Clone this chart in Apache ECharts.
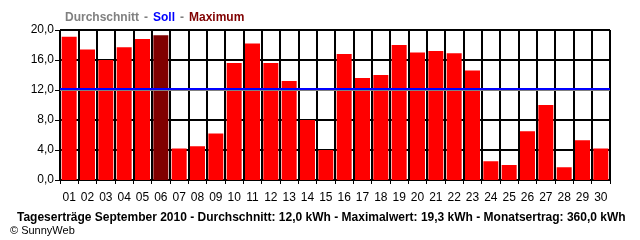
<!DOCTYPE html>
<html><head><meta charset="utf-8">
<script src="https://cdn.jsdelivr.net/npm/echarts@6/dist/echarts.min.js"></script>
<style>html,body{margin:0;padding:0;background:#fff}#c{width:640px;height:240px}</style>
</head><body><div id="c"></div>
<script>
const days = ['01','02','03','04','05','06','07','08','09','10','11','12','13','14','15','16','17','18','19','20','21','22','23','24','25','26','27','28','29','30'];
const yields = [19.1,17.4,16.0,17.7,18.8,19.3,4.2,4.5,6.2,15.6,18.2,15.6,13.2,8.0,4.0,16.8,13.6,14.0,18.0,17.0,17.2,16.9,14.6,2.5,2.0,6.5,10.0,1.7,5.3,4.2];
const average = 12.0;
const target = 12.2;
const yTicks = [0,4,8,12,16,20];
const titleText = 'Tageserträge September 2010 - Durchschnitt: 12,0 kWh - Maximalwert: 19,3 kWh - Monatsertrag: 360,0 kWh';

const maxVal = Math.max(...yields);
const chart = echarts.init(document.getElementById('c'), null, {renderer:'canvas'});
const font = '"Liberation Sans", Arial, sans-serif';
chart.setOption({
  animation:false,
  title:[
    {left:60, top:4, text:'{a|Durchschnitt} {s|-} {b|Soll} {s|-} {c|Maximum}',
      textStyle:{rich:{
        a:{color:'#808080',fontWeight:'bold',fontSize:12,fontFamily:font},
        s:{color:'#808080',fontWeight:'bold',fontSize:12,fontFamily:font},
        b:{color:'#0000ff',fontWeight:'bold',fontSize:12,fontFamily:font},
        c:{color:'#800000',fontWeight:'bold',fontSize:12,fontFamily:font}}}},
    {left:12, top:207, text:titleText, textStyle:{color:'#000',fontWeight:'bold',fontSize:12,fontFamily:font}},
    {left:5, top:220, text:'© SunnyWeb', textStyle:{color:'#000',fontWeight:'normal',fontSize:11,fontFamily:font}}
  ],
  grid:{left:60, top:30, width:550, height:150, show:true, borderColor:'#000', borderWidth:1, backgroundColor:'#fff'},
  xAxis:{type:'category', data:days, boundaryGap:true,
    axisLine:{lineStyle:{color:'#000',width:1}},
    axisTick:{show:true, length:4, lineStyle:{color:'#000'}},
    splitLine:{show:true, lineStyle:{color:'#000',width:2}},
    axisLabel:{color:'#000', fontSize:12, fontFamily:font, margin:12}},
  yAxis:{type:'value', min:0, max:20, interval:4,
    axisLine:{show:true, lineStyle:{color:'#000'}},
    axisTick:{show:true, length:5, lineStyle:{color:'#000'}},
    splitLine:{show:true, lineStyle:{color:'#000',width:2}},
    axisLabel:{color:'#000', fontSize:12, fontFamily:font, margin:6,
      formatter:v=>v.toFixed(1).replace('.',',')}},
  series:[{type:'bar', barWidth:15,
    data:yields.map(v=>({value:v, itemStyle:{color: v===maxVal?'#800000':'#ff0000'}})),
    markLine:{silent:true, symbol:'none', label:{show:false},
      data:[
        {yAxis:average, lineStyle:{color:'#808080',width:2,type:'solid'}},
        {yAxis:target, lineStyle:{color:'#0000ff',width:2,type:'solid'}}
      ]}}]
});
</script></body></html>
